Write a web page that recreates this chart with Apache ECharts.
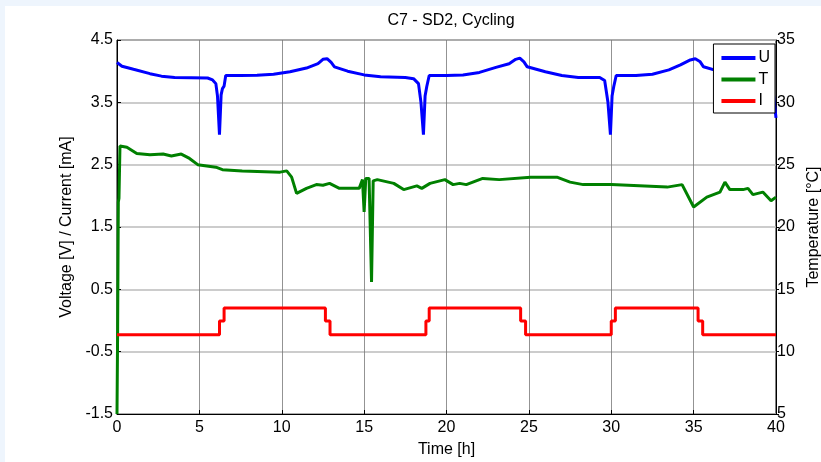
<!DOCTYPE html>
<html>
<head>
<meta charset="utf-8">
<script src="https://cdn.jsdelivr.net/npm/echarts@6/dist/echarts.min.js"></script>
<style>
  html, body { margin: 0; padding: 0; background: #eef5fd; }
  #chart { position: absolute; left: 5px; top: 6px; width: 816px; height: 456px; background: #fff; }
</style>
</head>
<body>
<div id="chart"></div>
<script>
// voltage U [V]
const tU = [0, 0.3, 1, 2, 2.7, 3.5, 5.5, 5.8, 6.0, 6.1, 6.22, 6.32, 6.4, 6.5, 6.6, 7.5, 8.5, 9.5, 10.5, 11.5, 12.2, 12.5, 12.75, 13.0, 13.2,
  14, 15, 16, 17.5, 18.0, 18.3, 18.45, 18.6, 18.7, 18.8, 18.95, 20, 21, 22, 23, 23.8, 24.2, 24.45, 24.7, 24.9,
  26, 27, 28, 29.3, 29.6, 29.8, 29.95, 30.05, 30.15, 30.3, 31.5, 32.5, 33.5, 34.2, 34.8, 35.1, 35.4, 35.6,
  36.5, 37.5, 38.5, 39.3, 39.7, 39.85, 40];
const vU = [4.14, 4.08, 4.03, 3.96, 3.92, 3.9, 3.89, 3.86, 3.8, 3.6, 2.98, 3.62, 3.72, 3.76, 3.93, 3.93, 3.935, 3.95, 3.99, 4.05, 4.12, 4.19, 4.2, 4.14, 4.07,
  4.0, 3.94, 3.91, 3.9, 3.88, 3.8, 3.5, 2.98, 3.6, 3.75, 3.93, 3.93, 3.94, 3.98, 4.06, 4.12, 4.19, 4.21, 4.15, 4.07,
  3.99, 3.93, 3.9, 3.9, 3.85, 3.5, 2.98, 3.6, 3.75, 3.93, 3.93, 3.95, 4.02, 4.1, 4.18, 4.2, 4.15, 4.07,
  4.0, 3.95, 3.91, 3.88, 3.7, 3.62, 3.25];

// temperature T [°C]
const tT = [0, 0.04, 0.08, 0.12, 0.18, 0.3, 0.6, 1.2, 2, 2.8, 3.3, 3.9, 4.4, 4.9, 6, 6.4, 7.6, 9.9, 10.3, 10.6, 10.9, 11.5, 12.1, 12.5, 12.9,
  13.5, 14.7, 14.9, 15.0, 15.1, 15.3, 15.45, 15.55, 15.8, 16.8, 17.4, 18.2, 18.5, 19.0, 19.9, 20.4, 20.8, 21.2, 22.2, 23.2, 25.1, 26.7,
  27.5, 28.3, 30, 33.4, 34.3, 35.0, 35.8, 36.6, 36.9, 37.2, 38.0, 38.3, 38.6, 39.2, 39.7, 40];
const vT = [5, 12, 22, 22.3, 26.5, 26.6, 26.4, 25.9, 25.8, 25.85, 25.7, 25.85, 25.5, 25.0, 24.8, 24.6, 24.5, 24.4, 24.5, 24.0, 22.7, 23.1, 23.4, 23.35, 23.5,
  23.1, 23.1, 23.8, 21.2, 23.9, 23.9, 15.6, 23.7, 23.8, 23.5, 23.0, 23.3, 23.1, 23.5, 23.8, 23.4, 23.5, 23.4, 23.9, 23.8, 24.0, 24.0,
  23.6, 23.4, 23.4, 23.2, 23.4, 21.6, 22.4, 22.8, 23.6, 23.0, 23.0, 23.1, 22.6, 22.8, 22.1, 22.4];

// current I [mA]
const tI = [0, 6.22, 6.22, 6.5, 6.5, 12.65, 12.65, 12.93, 12.93, 18.75, 18.75, 18.95, 18.95, 24.5, 24.5, 24.8, 24.8,
  30.0, 30.0, 30.25, 30.25, 35.27, 35.27, 35.55, 35.55, 40];
const vI = [-0.23, -0.23, -0.01, -0.01, 0.2, 0.2, -0.01, -0.01, -0.23, -0.23, -0.01, -0.01, 0.2, 0.2, -0.01, -0.01, -0.23,
  -0.23, -0.01, -0.01, 0.2, 0.2, -0.01, -0.01, -0.23, -0.23];

const pairs = (t, v) => t.map((x, i) => [x, v[i]]);
const font = 'Liberation Sans, Arial, sans-serif';

const chart = echarts.init(document.getElementById('chart'));
chart.setOption({
  animation: false,
  textStyle: { fontFamily: font },
  title: {
    text: 'C7 - SD2, Cycling',
    left: 441, top: 2, textAlign: 'center',
    textStyle: { fontFamily: font, fontSize: 16, fontWeight: 'normal', color: '#000' }
  },
  grid: {
    left: 112, right: 45, top: 34, bottom: 48,
    outerBoundsMode: 'none', containLabel: false,
    show: true, borderColor: '#000', borderWidth: 1, backgroundColor: '#fff'
  },
  legend: {
    orient: 'vertical',
    right: 46, top: 38,
    backgroundColor: '#fff', borderColor: '#000', borderWidth: 1,
    padding: [6, 5, 4, 8],
    icon: 'rect',
    itemWidth: 34, itemHeight: 4, itemGap: 5.5,
    textStyle: { fontFamily: font, fontSize: 16, color: '#000', lineHeight: 16, padding: [0, 0, 0, -2] },
    data: ['U', 'T', 'I']
  },
  xAxis: {
    type: 'value', min: 0, max: 40, interval: 5,
    name: 'Time [h]', nameLocation: 'middle', nameGap: 28,
    nameTextStyle: { fontFamily: font, fontSize: 16, color: '#000' },
    axisLine: { onZero: false, lineStyle: { color: '#000' } },
    axisTick: { inside: true, length: 4, lineStyle: { color: '#000' } },
    axisLabel: { fontFamily: font, fontSize: 16, color: '#000', margin: 6 },
    splitLine: { show: true, lineStyle: { color: '#777', width: 0.8 } }
  },
  yAxis: [{
    type: 'value', min: -1.5, max: 4.5, interval: 1,
    name: 'Voltage [V] / Current [mA]', nameLocation: 'middle', nameGap: 41,
    nameTextStyle: { fontFamily: font, fontSize: 16, color: '#000' },
    axisLine: { show: true, onZero: false, lineStyle: { color: '#000' } },
    axisTick: { show: true, inside: true, length: 4, lineStyle: { color: '#000' } },
    axisLabel: { fontFamily: font, fontSize: 16, color: '#000', margin: 4 },
    splitLine: { show: true, lineStyle: { color: '#bbb', width: 1.5 } }
  }, {
    type: 'value', min: 5, max: 35, interval: 5, position: 'right',
    name: 'Temperature [°C]', nameLocation: 'middle', nameGap: 30,
    nameTextStyle: { fontFamily: font, fontSize: 16, color: '#000' },
    axisLine: { show: true, onZero: false, lineStyle: { color: '#000' } },
    axisTick: { show: true, inside: false, length: 3, lineStyle: { color: '#000' } },
    axisLabel: { fontFamily: font, fontSize: 16, color: '#000', margin: 1 },
    splitLine: { show: false }
  }],
  series: [{
    name: 'U', type: 'line', yAxisIndex: 0, symbol: 'none', z: 3,
    lineStyle: { color: '#0000ff', width: 3 }, itemStyle: { color: '#0000ff' },
    data: pairs(tU, vU)
  }, {
    name: 'T', type: 'line', yAxisIndex: 1, symbol: 'none', z: 2,
    lineStyle: { color: '#008000', width: 3 }, itemStyle: { color: '#008000' },
    data: pairs(tT, vT)
  }, {
    name: 'I', type: 'line', yAxisIndex: 0, symbol: 'none', z: 2,
    lineStyle: { color: '#ff0000', width: 3 }, itemStyle: { color: '#ff0000' },
    data: pairs(tI, vI)
  }]
});
</script>
</body>
</html>
